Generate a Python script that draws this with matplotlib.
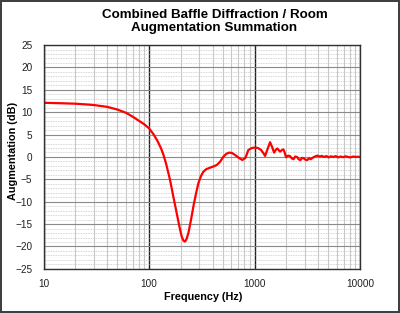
import matplotlib
matplotlib.use("Agg")
import matplotlib.pyplot as plt
from matplotlib.ticker import FixedLocator, NullFormatter, LogLocator

# values
freq = [10, 15, 20, 25, 30, 40, 50, 60, 70, 80, 90, 100, 110, 120, 130, 137,
        145, 158, 170, 183, 195, 204, 212, 219, 226, 236, 250, 263, 278, 293, 310,
        327, 350, 378, 410, 438, 470, 507, 540, 573, 610, 653, 710, 767, 820, 874,
        940, 1011, 1080, 1153, 1210, 1259, 1330, 1404, 1470, 1532, 1590, 1645, 1700,
        1745, 1810, 1877, 1930, 1990, 2080, 2170, 2250, 2340, 2430, 2530, 2620, 2720,
        2820, 2930, 3040, 3160, 3280, 3410, 3540, 3680, 3820, 3960, 4150, 4350, 4550,
        4800, 5050, 5300, 5600, 5900, 6200, 6550, 6900, 7300, 7700, 8100, 8600, 9100,
        9500, 10000]
gain = [12.1, 12.0, 11.9, 11.75, 11.6, 11.2, 10.6, 9.9, 9.0, 8.1, 7.3, 6.4,
        5.1, 3.6, 1.9, 0.45, -1.5, -5.1, -8.9, -12.6, -15.8, -17.8, -18.7, -18.9,
        -18.4, -17.0, -14.0, -11.1, -8.3, -5.9, -4.3, -3.3, -2.7, -2.4, -2.1, -1.8,
        -1.1, 0.07, 0.7, 0.97, 0.9, 0.45, -0.2, -0.67, -0.2, 1.56, 2.0, 2.1, 2.0,
        1.56, 0.9, 0.22, 1.8, 3.3, 2.2, 0.97, 1.6, 1.9, 1.5, 1.2, 1.5, 1.7, 1.0,
        -0.07, 0.3, 0.2, -0.3, -0.5, 0.1, 0.0, -0.5, -0.7, -0.2, -0.3, -0.6, -0.7,
        -0.3, -0.5, -0.2, 0.0, 0.2, 0.3, 0.1, 0.25, 0.0, 0.2, -0.1, 0.15, 0.0, 0.2,
        -0.1, 0.1, -0.05, 0.15, 0.0, -0.1, 0.1, 0.0, 0.05, 0.0]

title = "Combined Baffle Diffraction / Room\nAugmentation Summation"
x_label = "Frequency (Hz)"
y_label = "Augmentation (dB)"
x_ticks = [10, 100, 1000, 10000]
y_ticks = list(range(-25, 30, 5))

plt.rcParams["font.family"] = ["Liberation Sans", "DejaVu Sans"]

fig = plt.figure(figsize=(4.0, 3.13), dpi=100)
fig.patch.set_facecolor("white")
fig.patch.set_edgecolor("#404040")
fig.patch.set_linewidth(1.5)
ax = fig.add_axes([0.109, 0.141, 0.791, 0.715])

ax.set_xscale("log")
ax.set_xlim(10, 10000)
ax.set_ylim(-25, 25)

# grid: minor first, then major on top
ax.xaxis.set_minor_locator(LogLocator(base=10, subs=range(2, 10)))
ax.xaxis.set_minor_formatter(NullFormatter())
ax.yaxis.set_minor_locator(FixedLocator(range(-25, 26)))
ax.grid(True, which="minor", axis="x", color="#c8c8c8", lw=0.8)
ax.grid(True, which="minor", axis="y", color="#c8c8c8", lw=0.6, ls=(0, (1, 1)))
ax.grid(True, which="major", axis="y", color="#8a8a8a", lw=0.8)
ax.grid(True, which="major", axis="x", color="#202020", lw=1.0)
ax.set_axisbelow(True)

ax.plot(freq, gain, color="#ff0000", lw=1.6, solid_joinstyle="round")

ax.set_xticks(x_ticks)
ax.set_xticklabels([str(t) for t in x_ticks])
ax.set_yticks(y_ticks)
ax.tick_params(which="both", length=0, labelsize=7.2, colors="#202020")
ax.tick_params(axis="x", pad=7)
ax.tick_params(axis="y", pad=8)

for s in ax.spines.values():
    s.set_color("#303030")
    s.set_linewidth(1.0)

ax.set_xlabel(x_label, fontsize=7.8, fontweight="bold")
ax.set_ylabel(y_label, fontsize=7.8, fontweight="bold")
ax.xaxis.set_label_coords(0.504, -0.125)
ax.yaxis.set_label_coords(-0.096, 0.525)
ax.xaxis.label.set_va("center")
ax.yaxis.label.set_va("center")
fig.text(0.536, 0.93, title, ha="center", va="center", fontsize=9.6,
         fontweight="bold", linespacing=1.1)

fig.savefig("out.png", dpi=100, facecolor=fig.get_facecolor(),
            edgecolor=fig.get_edgecolor())
